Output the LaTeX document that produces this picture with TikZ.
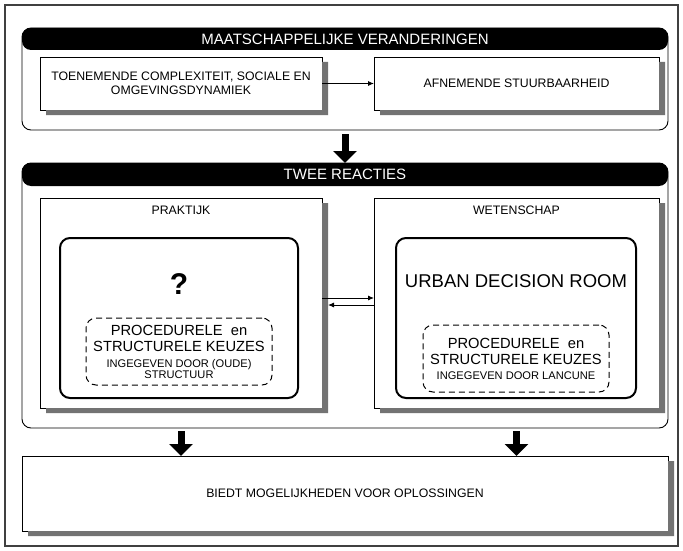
\documentclass[tikz,border=0pt]{standalone}
\usepackage{fontspec}
\setmainfont{Liberation Sans}
\usetikzlibrary{arrows.meta}

\newcommand\fontpx[2]{\fontsize{#1pt}{#2pt}\selectfont}
% grey drop shadow strip along the right and bottom sides of a box
\newcommand\boxshadow[1]{%
  \fill[shadowfill] ([yshift=-5pt]#1.north east) -- ([xshift=6pt,yshift=-5pt]#1.north east)
    -- ([xshift=6pt,yshift=-5pt]#1.south east) -- ([xshift=6pt,yshift=-5pt]#1.south west)
    -- ([xshift=6pt]#1.south west) -- (#1.south east) -- cycle;}

\tikzset{
  frame/.style={draw=black!75, line width=1.8pt},
  shadowfill/.style={fill=black!55},
  group/.style={draw=black, line width=0.9pt, rounded corners=9pt, inner sep=0pt, outer sep=0pt},
  header/.style={fill=black, text=white, rounded corners=9pt, inner sep=0pt, outer sep=0pt,
    font=\fontpx{15}{18}},
  plainbox/.style={draw=black, line width=0.9pt, fill=white, align=center, inner sep=0pt, outer sep=0pt,
    font=\fontpx{12.3}{13.5}},
  innerbox/.style={draw=black, line width=2pt, rounded corners=10pt, fill=white, inner sep=0pt, outer sep=0pt},
  dashbox/.style={draw=black, line width=1pt, dash pattern=on 6pt off 4pt, rounded corners=10pt,
    align=center, inner sep=0pt, outer sep=0pt, font=\fontpx{14.7}{16}},
  label/.style={inner sep=0pt, align=center, font=\fontpx{12.3}{14}},
  bigarrow/.style={line width=7pt, -{Triangle[width=23pt,length=12pt]}},
  thinarrow/.style={line width=0.9pt, -{Latex[length=6pt,width=5pt]}},
}

\begin{document}
\begin{tikzpicture}[x=1pt,y=-1pt]
\useasboundingbox (0,0) rectangle (683,551);
\fill[white] (0,0) rectangle (683,551);
\draw[frame] (5,5) rectangle (678,546);

% societal changes
\node[group, minimum width=646pt, minimum height=102pt] (g1) at (345,79) {};
\node[header, minimum width=646pt, minimum height=22pt, anchor=north] (h1) at (g1.north)
  {MAATSCHAPPELIJKE VERANDERINGEN};
\node[plainbox, minimum width=282pt, minimum height=53pt] (a) at (181,83.5)
  {TOENEMENDE COMPLEXITEIT, SOCIALE EN\\OMGEVINGSDYNAMIEK};
\node[plainbox, minimum width=285pt, minimum height=53pt] (b) at (516.5,83.5)
  {AFNEMENDE STUURBAARHEID};
\boxshadow{a}
\boxshadow{b}
\draw[thinarrow] (a.east) -- (b.west);

% two reactions
\node[group, minimum width=646pt, minimum height=265pt] (g2) at (345,295.5) {};
\node[header, minimum width=646pt, minimum height=23pt, anchor=north] (h2) at (g2.north)
  {TWEE REACTIES};
\draw[bigarrow] ([yshift=-4pt]g1.south) -- (h2.north);

\node[plainbox, minimum width=282pt, minimum height=210pt] (prak) at (181,303) {};
\boxshadow{prak}
\node[label] (plab) at (181,210) {PRAKTIJK};
\node[innerbox, minimum width=238pt, minimum height=160pt] (pin) at (179,318) {};
\node[label, font=\fontpx{30}{32}\bfseries] (q) at (179,284) {?};
\node[dashbox, minimum width=186pt, minimum height=67pt] (pdash) at (179,351.5)
  {PROCEDURELE\ \ en\\
   STRUCTURELE KEUZES\\
   \fontpx{11.1}{11.5}INGEGEVEN DOOR (OUDE)\\[-5pt]
   \fontpx{11.1}{11.5}STRUCTUUR};

\node[plainbox, minimum width=285pt, minimum height=210pt] (wet) at (516.5,303) {};
\boxshadow{wet}
\node[label] (wlab) at (516.5,210) {WETENSCHAP};
\node[innerbox, minimum width=240pt, minimum height=160pt] (win) at (516,318) {};
\node[label, font=\fontpx{18.5}{20}] (udr) at (516,281) {URBAN DECISION ROOM};
\node[dashbox, minimum width=186pt, minimum height=67pt] (wdash) at (516,358.5)
  {PROCEDURELE\ \ en\\[0.5pt]
   STRUCTURELE KEUZES\\[-1.5pt]
   \fontpx{11.1}{12}INGEGEVEN DOOR LANCUNE};

\draw[thinarrow] ([yshift=5pt]prak.east) -- ([yshift=5pt]wet.west);
\draw[thinarrow] ([yshift=-2pt]wet.west) -- ([yshift=-2pt,xshift=6pt]prak.east);

% outcome
\node[plainbox, minimum width=646pt, minimum height=75pt] (res) at (345,493.5)
  {BIEDT MOGELIJKHEDEN VOOR OPLOSSINGEN};
\boxshadow{res}
\draw[bigarrow] ([yshift=-3pt]prak.south |- g2.south) -- (prak.south |- res.north);
\draw[bigarrow] ([yshift=-3pt]wet.south |- g2.south) -- (wet.south |- res.north);
\end{tikzpicture}
\end{document}
